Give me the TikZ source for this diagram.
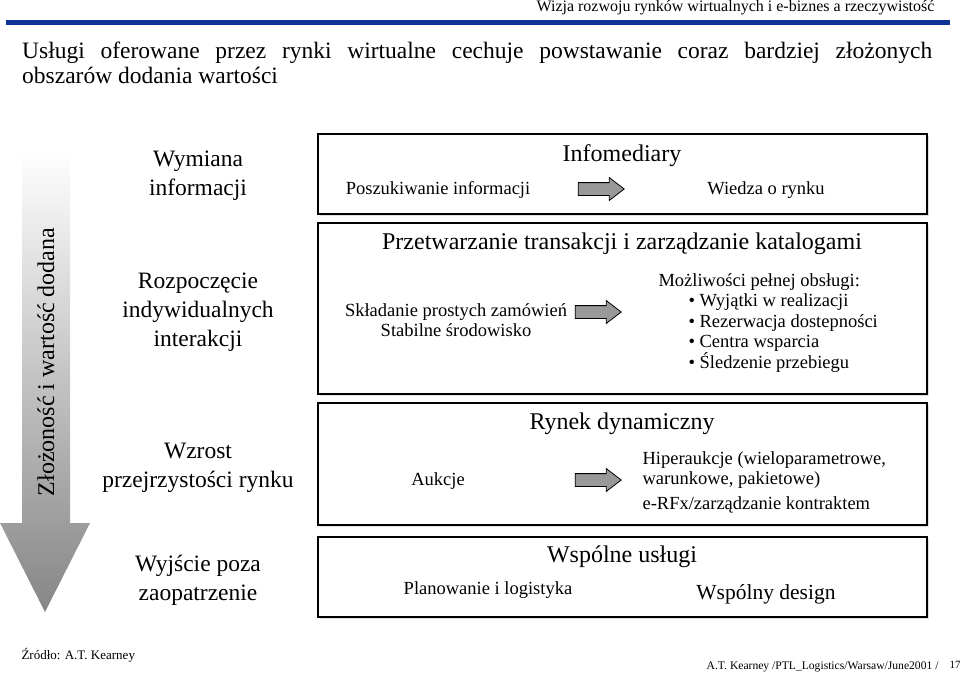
\documentclass[tikz,border=0pt]{standalone}
\usepackage{fontspec}
\setmainfont{Liberation Serif}
\usetikzlibrary{positioning, shapes.arrows, shadows}
\definecolor{barblue}{RGB}{16,52,150}

\begin{document}
\begin{tikzpicture}[x=1pt,y=-1pt]
    % Styles
    \tikzstyle{panel} = [draw, line width=1.3pt, fill=white, inner sep=0pt, minimum width=609pt,
        drop shadow={shadow xshift=1.5pt, shadow yshift=-1.5pt, fill=gray!50}]
    \tikzstyle{stage} = [align=center, font=\fontsize{23.5}{29}\selectfont]
    \tikzstyle{heading} = [font=\fontsize{24}{28}\selectfont]
    \tikzstyle{small} = [font=\fontsize{18.5}{20.5}\selectfont]
    \tikzstyle{push} = [single arrow, draw, fill=gray!80, line width=0.8pt, inner sep=0pt,
        minimum height=46pt, single arrow head extend=5pt, single arrow tip angle=75]

    \useasboundingbox (0,0) rectangle (960,675);

    % Header and title
    \node[anchor=east, font=\fontsize{16}{18}\selectfont] (header) at (938,8) {Wizja rozwoju rynków wirtualnych i e-biznes a rzeczywistość};
    \fill[barblue] (6,20) rectangle (950,25);
    \node[anchor=north west, inner sep=0pt, text width=910pt, align=justify, font=\fontsize{23.5}{25}\selectfont] (title) at (22,42)
        {Usługi oferowane przez rynki wirtualne cechuje powstawanie coraz bardziej złożonych\linebreak obszarów dodania wartości};

    % Big shaded arrow
    \shade[top color=white, bottom color=gray!95] (22,150) -- (70,150) -- (70,523) -- (90,523) -- (45,612) -- (0,523) -- (22,523) -- cycle;
    \node[rotate=90, font=\fontsize{24}{28}\selectfont] (axis) at (46,362) {Złożoność i wartość dodana};

    % Stages
    \node[stage] (stage1) at (198,176) {Wymiana\\informacji};
    \node[stage] (stage2) at (198,312) {Rozpoczęcie\\indywidualnych\\interakcji};
    \node[stage] (stage3) at (198,468) {Wzrost\\przejrzystości rynku};
    \node[stage] (stage4) at (198,580) {Wyjście poza\\zaopatrzenie};

    % Panels
    \node[panel, minimum height=80pt] (panel1) at (622.5,174) {};
    \node[panel, minimum height=171pt] (panel2) at (622.5,308.5) {};
    \node[panel, minimum height=122pt] (panel3) at (622.5,464) {};
    \node[panel, minimum height=80pt] (panel4) at (622.5,577) {};

    % Infomediary
    \node[heading] (info) at (622,156) {Infomediary};
    \node[small] (search) at (438,190) {Poszukiwanie informacji};
    \node[push] (arrow1) at (597,189) {\rule{0pt}{12pt}};
    \node[small] (knowledge) at (766,190) {Wiedza o rynku};

    % Transactions
    \node[heading] (trans) at (622,244) {Przetwarzanie transakcji i zarządzanie katalogami};
    \node[small, align=center] (orders) at (456,320) {Składanie prostych zamówień\\Stabilne środowisko};
    \node[push] (arrow2) at (594,312) {\rule{0pt}{12pt}};
    \node[small, anchor=north west, align=left] (service) at (655,270)
        {Możliwości pełnej obsługi:\\
        \hspace*{30pt}• Wyjątki w realizacji\\
        \hspace*{30pt}• Rezerwacja dostepności\\
        \hspace*{30pt}• Centra wsparcia\\
        \hspace*{30pt}• Śledzenie przebiegu};

    % Dynamic market
    \node[heading] (market) at (622,424) {Rynek dynamiczny};
    \node[small] (auctions) at (438,481) {Aukcje};
    \node[push] (arrow3) at (594,480) {\rule{0pt}{12pt}};
    \node[small, anchor=north west, align=left] (hyper) at (639,448)
        {Hiperaukcje (wieloparametrowe,\\warunkowe, pakietowe)\\[4pt]e-RFx/zarządzanie kontraktem};

    % Shared services
    \node[heading] (shared) at (622,557) {Wspólne usługi};
    \node[small] (planning) at (488,590) {Planowanie i logistyka};
    \node[font=\fontsize{21.5}{24}\selectfont] (design) at (766,594) {Wspólny design};

    % Footer
    \node[anchor=west, font=\fontsize{13}{15}\selectfont] (source) at (18,655) {Źródło: A.T. Kearney};
    \node[anchor=east, font=\fontsize{11.6}{13}\selectfont] (credit) at (942,667) {A.T. Kearney /PTL\_Logistics/Warsaw/June2001 /};
    \node[font=\fontsize{11}{13}\selectfont] (page) at (955,665) {17};
\end{tikzpicture}
\end{document}
